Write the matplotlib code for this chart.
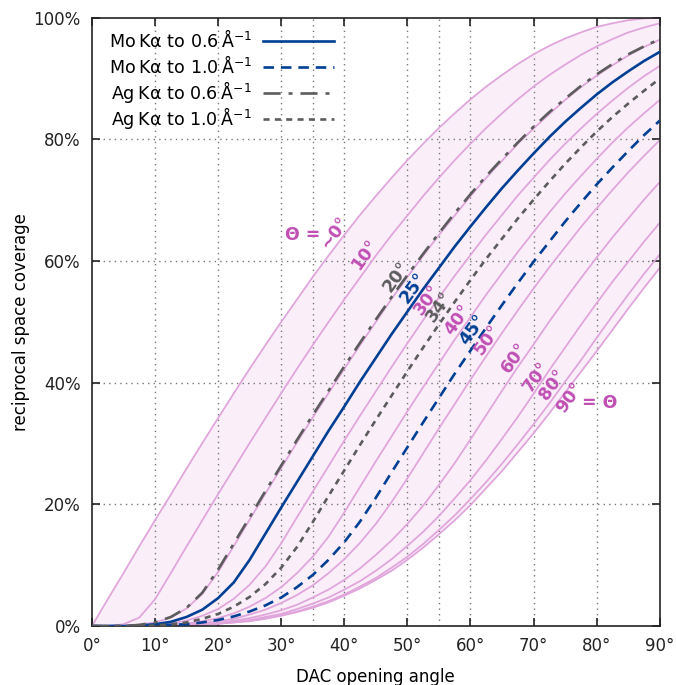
import matplotlib
matplotlib.use('Agg')
import matplotlib.pyplot as plt
import numpy as np

# DAC opening angle (deg) at which the curves were read
alpha = [0, 2.5, 5, 7.5, 10, 12.5, 15, 17.5, 20, 22.5, 25, 27.5, 30, 32.5, 35, 37.5, 40, 42.5,
         45, 47.5, 50, 52.5, 55, 57.5, 60, 62.5, 65, 67.5, 70, 72.5, 75, 77.5, 80, 82.5, 85, 87.5, 90]

# coverage in per mille, one list per maximum Bragg angle (pink family)
th0 = [0, 44, 87, 131, 174, 216, 259, 301, 342, 383, 423, 462, 500, 537, 574, 609, 643, 676, 707,
       737, 766, 793, 819, 843, 866, 887, 906, 924, 940, 954, 966, 976, 985, 991, 996, 999, 1000]
th10 = [0, 0, 3, 14, 44, 87, 131, 174, 217, 259, 301, 342, 383, 423, 462, 500, 537, 573, 609,
        643, 675, 707, 737, 766, 793, 819, 843, 866, 887, 906, 923, 939, 953, 965, 976, 984, 991]
th20 = [0, 0, 0, 2, 6, 14, 29, 53, 89, 132, 175, 218, 260, 302, 343, 383, 423, 462, 500,
        538, 574, 609, 643, 675, 707, 737, 765, 793, 818, 842, 865, 886, 905, 922, 938, 952, 964]
th30 = [0, 0, 0, 1, 2, 4, 9, 17, 28, 45, 68, 98, 136, 179, 221, 263, 305, 346, 386,
        426, 465, 503, 540, 576, 610, 644, 676, 708, 737, 766, 793, 818, 842, 864, 885, 904, 921]
th40 = [0, 0, 0, 0, 1, 2, 4, 8, 13, 21, 32, 46, 64, 87, 114, 147, 187, 229, 271,
        312, 353, 393, 432, 471, 508, 545, 580, 615, 648, 680, 711, 740, 768, 795, 820, 843, 865]
th50 = [0, 0, 0, 0, 1, 1, 3, 5, 8, 12, 19, 27, 38, 51, 67, 87, 110, 137, 168,
        204, 243, 284, 325, 365, 405, 444, 482, 519, 555, 590, 623, 656, 687, 717, 746, 773, 799]
th60 = [0, 0, 0, 0, 0, 1, 2, 3, 5, 9, 13, 19, 26, 35, 47, 60, 76, 95, 117,
        141, 168, 198, 232, 268, 307, 347, 387, 426, 463, 501, 537, 572, 606, 639, 670, 701, 730]
th70 = [0, 0, 0, 0, 0, 1, 1, 3, 4, 7, 10, 15, 20, 28, 37, 47, 60, 74, 91,
        110, 132, 155, 181, 210, 240, 273, 308, 344, 382, 421, 458, 495, 531, 566, 599, 632, 663]
th80 = [0, 0, 0, 0, 0, 1, 1, 2, 4, 6, 9, 13, 18, 24, 32, 41, 52, 65, 79,
        96, 114, 135, 158, 182, 209, 237, 267, 299, 332, 366, 402, 437, 474, 510, 545, 579, 611]
th90 = [0, 0, 0, 0, 0, 1, 1, 2, 4, 6, 8, 12, 17, 23, 30, 39, 50, 62, 76,
        91, 109, 129, 151, 174, 199, 227, 255, 286, 317, 350, 384, 418, 452, 487, 522, 556, 589]

# radiation / resolution combinations (per mille)
mo_06 = [0, 0, 0, 1, 3, 7, 15, 27, 46, 72, 109, 152, 195, 237, 279, 321, 361, 402, 441,
         480, 517, 554, 589, 624, 657, 689, 720, 749, 777, 804, 829, 852, 874, 894, 912, 929, 944]
mo_10 = [0, 0, 0, 0, 1, 2, 3, 6, 10, 16, 24, 34, 47, 64, 84, 109, 138, 172, 211,
         253, 294, 335, 375, 415, 453, 491, 528, 564, 599, 632, 665, 696, 726, 754, 781, 807, 831]
ag_06 = [0, 0, 0, 2, 6, 15, 30, 55, 93, 136, 179, 222, 264, 306, 347, 387, 427, 466, 504,
         541, 577, 612, 646, 679, 710, 740, 768, 795, 821, 845, 867, 888, 907, 924, 940, 953, 965]
ag_10 = [0, 0, 0, 0, 1, 3, 6, 12, 20, 32, 48, 69, 96, 130, 171, 214, 256, 298, 339,
         379, 419, 458, 496, 533, 569, 604, 637, 670, 701, 731, 760, 787, 813, 837, 859, 880, 900]

pink_family = [th0, th10, th20, th30, th40, th50, th60, th70, th80, th90]
legend_labels = ['Mo\u2009K\u03b1 to 0.6\u2009\u00c5$^{-1}$', 'Mo\u2009K\u03b1 to 1.0\u2009\u00c5$^{-1}$',
                 'Ag\u2009K\u03b1 to 0.6\u2009\u00c5$^{-1}$', 'Ag\u2009K\u03b1 to 1.0\u2009\u00c5$^{-1}$']

pink = '#e0a6dc'
pinktxt = '#c050b4'
blue = '#003f94'
grey = '#5c5c5c'

plt.rcParams['font.family'] = 'DejaVu Sans'
fig, ax = plt.subplots(figsize=(6.76, 6.85), dpi=100)
fig.subplots_adjust(left=0.136, right=0.976, bottom=0.086, top=0.974)

a = np.array(alpha)
ax.fill_between(a, np.array(th90) / 10, np.array(th0) / 10, color='#faeff9', lw=0, zorder=1)
for c in pink_family:
    ax.plot(a, np.array(c) / 10, color=pink, lw=1.3, zorder=2)

styles = [(mo_06, blue, '-'), (mo_10, blue, (0, (4, 2.6))),
          (ag_06, grey, (0, (6.5, 3, 1.5, 3))), (ag_10, grey, (0, (2.3, 2)))]
for (c, col, ls) in styles:
    ax.plot(a, np.array(c) / 10, color=col, lw=1.9, ls=ls, zorder=3)

# dotted grid
for gx in [10, 20, 30, 35, 40, 50, 55, 60, 70, 80]:
    ax.axvline(gx, color='#777777', lw=1, ls=(0, (1, 3)), zorder=1.5)
for gy in [20, 40, 60, 80]:
    ax.axhline(gy, color='#777777', lw=1, ls=(0, (1, 3)), zorder=1.5)

ax.set_xlim(0, 90)
ax.set_ylim(0, 100)
ax.set_xticks(range(0, 91, 10))
ax.set_xticklabels([f'{v}\u00b0' for v in range(0, 91, 10)])
ax.set_yticks(range(0, 101, 20))
ax.set_yticklabels([f'{v}%' for v in range(0, 101, 20)])
ax.tick_params(direction='in', length=6, width=1.2, top=True, right=True, labelsize=12, pad=8,
               colors='#222222')
for s in ax.spines.values():
    s.set_linewidth(1.2)
    s.set_color('#222222')
ax.set_xlabel('DAC opening angle', fontsize=12, labelpad=9)
ax.set_ylabel('reciprocal space coverage', fontsize=12, labelpad=2.5)

# labels along the curves
lab = [('~0\u00b0', 38.5, 64.6, pinktxt), ('10\u00b0', 43.3, 61.0, pinktxt), ('20\u00b0', 48.3, 57.4, grey),
       ('25\u00b0', 50.9, 55.6, blue), ('30\u00b0', 53.2, 53.6, pinktxt), ('34\u00b0', 55.1, 52.5, grey),
       ('40\u00b0', 58.0, 50.3, pinktxt), ('45\u00b0', 60.4, 48.7, blue), ('50\u00b0', 62.7, 47.0, pinktxt),
       ('60\u00b0', 67.0, 44.1, pinktxt), ('70\u00b0', 70.5, 41.0, pinktxt), ('80\u00b0', 73.0, 39.6, pinktxt),
       ('90\u00b0', 75.7, 37.5, pinktxt)]
for t, x, y, c in lab:
    ax.text(x, y, t, color=c, fontsize=12.5, fontweight='bold', rotation=54, ha='center', va='center', zorder=4)
ax.text(33.4, 64.3, '\u0398 =', color=pinktxt, fontsize=12.5, fontweight='bold', ha='center', va='center', zorder=4)
ax.text(80.5, 36.6, '= \u0398', color=pinktxt, fontsize=12.5, fontweight='bold', ha='center', va='center', zorder=4)

# legend: text right-aligned, sample line to its right
row_y = [0.9622, 0.9194, 0.8766, 0.8339]
for (c, col, ls), lbl, yy in zip(styles, legend_labels, row_y):
    ax.plot([0.3011, 0.4261], [yy, yy], transform=ax.transAxes, color=col, lw=1.9, ls=ls, zorder=5)
    ax.text(0.2817, yy - 0.0102, lbl, transform=ax.transAxes, fontsize=12.6, ha='right', va='baseline', zorder=5)

fig.savefig('out.png')
